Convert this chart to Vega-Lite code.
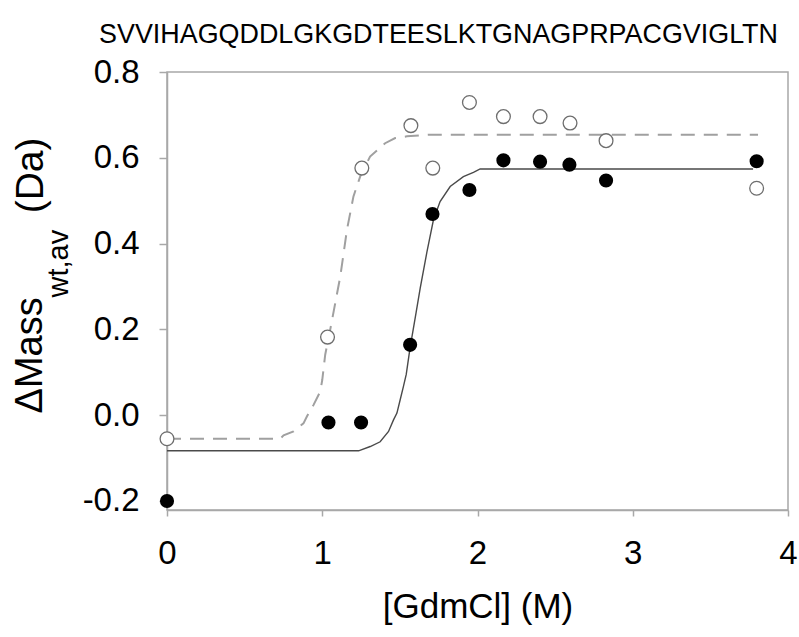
{
  "$schema": "https://vega.github.io/schema/vega-lite/v6.json",
  "width": 621,
  "height": 438,
  "autosize": "none",
  "padding": {"left": 167, "top": 72, "right": 11, "bottom": 127},
  "background": "white",
  "config": {
    "font": "Liberation Sans, Arial, sans-serif",
    "view": {"stroke": "#a8a8a8", "strokeWidth": 1.5}
  },
  "title": {
    "text": "SVVIHAGQDDLGKGDTEESLKTGNAGPRPACGVIGLTN",
    "fontSize": 26.9,
    "fontWeight": "normal",
    "color": "#000",
    "anchor": "middle",
    "frame": "group",
    "dx": -39,
    "offset": -14,
    "baseline": "alphabetic",
    "font": "Liberation Sans, Arial, sans-serif"
  },
  "datasets": {
    "points": [
      {"gdmcl": 0.0, "mass": -0.2, "series": "filled"},
      {"gdmcl": 1.04, "mass": -0.017, "series": "filled"},
      {"gdmcl": 1.25, "mass": -0.017, "series": "filled"},
      {"gdmcl": 1.566, "mass": 0.164, "series": "filled"},
      {"gdmcl": 1.71, "mass": 0.469, "series": "filled"},
      {"gdmcl": 1.948, "mass": 0.525, "series": "filled"},
      {"gdmcl": 2.167, "mass": 0.594, "series": "filled"},
      {"gdmcl": 2.403, "mass": 0.591, "series": "filled"},
      {"gdmcl": 2.592, "mass": 0.584, "series": "filled"},
      {"gdmcl": 2.828, "mass": 0.547, "series": "filled"},
      {"gdmcl": 3.798, "mass": 0.592, "series": "filled"},
      {"gdmcl": 0.0, "mass": -0.055, "series": "open"},
      {"gdmcl": 1.034, "mass": 0.182, "series": "open"},
      {"gdmcl": 1.255, "mass": 0.576, "series": "open"},
      {"gdmcl": 1.571, "mass": 0.675, "series": "open"},
      {"gdmcl": 1.712, "mass": 0.576, "series": "open"},
      {"gdmcl": 1.948, "mass": 0.729, "series": "open"},
      {"gdmcl": 2.167, "mass": 0.696, "series": "open"},
      {"gdmcl": 2.403, "mass": 0.696, "series": "open"},
      {"gdmcl": 2.596, "mass": 0.681, "series": "open"},
      {"gdmcl": 2.828, "mass": 0.64, "series": "open"},
      {"gdmcl": 3.798, "mass": 0.529, "series": "open"}
    ],
    "fits": [
      {"gdmcl": 0.0, "mass": -0.055, "fit": "open"},
      {"gdmcl": 0.729, "mass": -0.055, "fit": "open"},
      {"gdmcl": 0.751, "mass": -0.047, "fit": "open"},
      {"gdmcl": 0.815, "mass": -0.038, "fit": "open"},
      {"gdmcl": 0.879, "mass": -0.019, "fit": "open"},
      {"gdmcl": 0.901, "mass": -0.003, "fit": "open"},
      {"gdmcl": 0.944, "mass": 0.024, "fit": "open"},
      {"gdmcl": 0.987, "mass": 0.055, "fit": "open"},
      {"gdmcl": 1.0, "mass": 0.082, "fit": "open"},
      {"gdmcl": 1.019, "mass": 0.141, "fit": "open"},
      {"gdmcl": 1.051, "mass": 0.199, "fit": "open"},
      {"gdmcl": 1.084, "mass": 0.262, "fit": "open"},
      {"gdmcl": 1.116, "mass": 0.323, "fit": "open"},
      {"gdmcl": 1.159, "mass": 0.432, "fit": "open"},
      {"gdmcl": 1.201, "mass": 0.51, "fit": "open"},
      {"gdmcl": 1.244, "mass": 0.556, "fit": "open"},
      {"gdmcl": 1.308, "mass": 0.603, "fit": "open"},
      {"gdmcl": 1.405, "mass": 0.634, "fit": "open"},
      {"gdmcl": 1.47, "mass": 0.646, "fit": "open"},
      {"gdmcl": 1.545, "mass": 0.65, "fit": "open"},
      {"gdmcl": 1.695, "mass": 0.654, "fit": "open"},
      {"gdmcl": 3.807, "mass": 0.654, "fit": "open"},
      {"gdmcl": 0.0, "mass": -0.083, "fit": "filled"},
      {"gdmcl": 1.234, "mass": -0.083, "fit": "filled"},
      {"gdmcl": 1.309, "mass": -0.073, "fit": "filled"},
      {"gdmcl": 1.373, "mass": -0.062, "fit": "filled"},
      {"gdmcl": 1.427, "mass": -0.038, "fit": "filled"},
      {"gdmcl": 1.459, "mass": -0.011, "fit": "filled"},
      {"gdmcl": 1.481, "mass": 0.005, "fit": "filled"},
      {"gdmcl": 1.502, "mass": 0.036, "fit": "filled"},
      {"gdmcl": 1.523, "mass": 0.067, "fit": "filled"},
      {"gdmcl": 1.541, "mass": 0.095, "fit": "filled"},
      {"gdmcl": 1.566, "mass": 0.158, "fit": "filled"},
      {"gdmcl": 1.586, "mass": 0.2, "fit": "filled"},
      {"gdmcl": 1.605, "mass": 0.24, "fit": "filled"},
      {"gdmcl": 1.631, "mass": 0.296, "fit": "filled"},
      {"gdmcl": 1.674, "mass": 0.38, "fit": "filled"},
      {"gdmcl": 1.716, "mass": 0.455, "fit": "filled"},
      {"gdmcl": 1.759, "mass": 0.498, "fit": "filled"},
      {"gdmcl": 1.824, "mass": 0.533, "fit": "filled"},
      {"gdmcl": 1.909, "mass": 0.556, "fit": "filled"},
      {"gdmcl": 1.974, "mass": 0.566, "fit": "filled"},
      {"gdmcl": 2.017, "mass": 0.574, "fit": "filled"},
      {"gdmcl": 3.775, "mass": 0.574, "fit": "filled"}
    ]
  },
  "resolve": {"axis": {"y": "independent"}},
  "layer": [
    {
      "data": {"name": "fits"},
      "transform": [{"filter": "datum.fit === 'open'"}],
      "mark": {"type": "line", "color": "#a0a0a0", "strokeWidth": 2, "strokeDash": [14, 9], "clip": true},
      "encoding": {
        "x": {
          "field": "gdmcl", "type": "quantitative",
          "scale": {"domain": [0, 4], "nice": false, "zero": false},
          "axis": {
            "title": "[GdmCl] (M)",
            "values": [0, 1, 2, 3, 4],
            "format": "d",
            "grid": false,
            "domainColor": "#a8a8a8", "domainWidth": 1.5,
            "tickColor": "#a8a8a8", "tickWidth": 1.5, "tickSize": 6,
            "labelFontSize": 33, "labelColor": "#000", "labelPadding": 21,
            "labelFlush": false,
            "titleFontSize": 35, "titleFontWeight": "normal", "titleColor": "#000",
            "titlePadding": 19
          }
        },
        "y": {
          "field": "mass", "type": "quantitative",
          "scale": {"domain": [-0.221, 0.8], "nice": false, "zero": false},
          "axis": {
            "orient": "left",
            "values": [-0.2, 0, 0.2, 0.4, 0.6, 0.8],
            "format": ".1f",
            "labelExpr": "replace(datum.label, '−', '-')",
            "grid": false,
            "domainColor": "#a8a8a8", "domainWidth": 1.5,
            "tickColor": "#a8a8a8", "tickWidth": 1.5, "tickSize": 8,
            "labelFontSize": 33, "labelColor": "#000", "labelPadding": 20,
            "labelFlush": false,
            "title": "ΔMass",
            "titleFontSize": 38, "titleFontWeight": "normal", "titleColor": "#000",
            "titleAngle": -90, "titleAlign": "left", "titleBaseline": "middle",
            "titleX": -137, "titleY": 341
          }
        }
      }
    },
    {
      "data": {"name": "fits"},
      "transform": [{"filter": "datum.fit === 'filled'"}],
      "mark": {"type": "line", "color": "#4a4a4a", "strokeWidth": 1.4, "clip": true},
      "encoding": {
        "x": {"field": "gdmcl", "type": "quantitative"},
        "y": {
          "field": "mass", "type": "quantitative",
          "axis": {
            "orient": "left", "domain": false, "ticks": false, "labels": false, "grid": false,
            "title": "wt,av",
            "titleFontSize": 29, "titleFontWeight": "normal", "titleColor": "#000",
            "titleAngle": -90, "titleAlign": "left", "titleBaseline": "middle",
            "titleX": -109, "titleY": 225
          }
        }
      }
    },
    {
      "data": {"name": "points"},
      "transform": [{"filter": "datum.series === 'open'"}],
      "mark": {"type": "point", "shape": "circle", "filled": true, "fill": "white", "stroke": "#6e6e6e", "strokeWidth": 1.3, "size": 190, "opacity": 1},
      "encoding": {
        "x": {"field": "gdmcl", "type": "quantitative"},
        "y": {
          "field": "mass", "type": "quantitative",
          "axis": {
            "orient": "left", "domain": false, "ticks": false, "labels": false, "grid": false,
            "title": "(Da)",
            "titleFontSize": 39, "titleFontWeight": "normal", "titleColor": "#000",
            "titleAngle": -90, "titleAlign": "right", "titleBaseline": "middle",
            "titleX": -137, "titleY": 65
          }
        }
      }
    },
    {
      "data": {"name": "points"},
      "transform": [{"filter": "datum.series === 'filled'"}],
      "mark": {"type": "point", "shape": "circle", "filled": true, "color": "#000", "size": 200, "opacity": 1},
      "encoding": {
        "x": {"field": "gdmcl", "type": "quantitative"},
        "y": {"field": "mass", "type": "quantitative", "axis": null}
      }
    }
  ]
}
